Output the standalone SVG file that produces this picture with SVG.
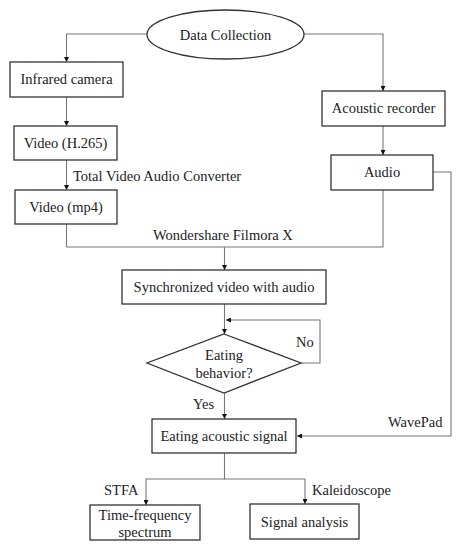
<svg xmlns="http://www.w3.org/2000/svg" width="464" height="550" viewBox="0 0 464 550">
<style>
.box{fill:#fff;stroke:#333;stroke-width:1.3}
.ln{fill:none;stroke:#777;stroke-width:1.1}
text{font-family:"Liberation Serif","Times New Roman",serif;font-size:14.5px;fill:#222}
.c{text-anchor:middle}
</style>
<defs>
<marker id="ar" viewBox="0 0 8 8" refX="8" refY="4" markerWidth="5" markerHeight="5" orient="auto" markerUnits="userSpaceOnUse">
<path d="M0,0 L8,4 L0,8 Z" fill="#111"/>
</marker>
</defs>
<rect width="464" height="550" fill="#fff"/>
<g id="connectors">
<path class="ln" d="M147,34 H66.5 V62" marker-end="url(#ar)"/>
<path class="ln" d="M304,34 H383 V91" marker-end="url(#ar)"/>
<path class="ln" d="M66.5,97 V126" marker-end="url(#ar)"/>
<path class="ln" d="M383,126 V155" marker-end="url(#ar)"/>
<path class="ln" d="M66.5,160 V190" marker-end="url(#ar)"/>
<path class="ln" d="M66.5,224 V247 H383 V190"/>
<path class="ln" d="M224.5,247 V270" marker-end="url(#ar)"/>
<path class="ln" d="M224.5,304 V334" marker-end="url(#ar)"/>
<path class="ln" d="M301,363 H320 V320 H226" marker-end="url(#ar)"/>
<path class="ln" d="M224.5,393 V419" marker-end="url(#ar)"/>
<path class="ln" d="M433,172 H451 V436 H297" marker-end="url(#ar)"/>
<path class="ln" d="M224.5,453 V479 H146 V505" marker-end="url(#ar)"/>
<path class="ln" d="M224.5,479 H305 V504" marker-end="url(#ar)"/>
<text x="73" y="181">Total Video Audio Converter</text>
<text x="153" y="240">Wondershare  Filmora  X</text>
<text x="296" y="347">No</text>
<text x="193" y="409">Yes</text>
<text x="388" y="427">WavePad</text>
<text x="104" y="495">STFA</text>
<text x="312" y="495">Kaleidoscope</text>
</g>
<g id="data-collection">
<ellipse cx="225.5" cy="34.5" rx="78.5" ry="24.5" class="box"/>
<text x="225.5" y="39.5" class="c">Data Collection</text>
</g>
<g id="infrared-camera">
<rect x="10" y="62" width="113" height="35" class="box"/>
<text x="66.5" y="84" class="c">Infrared  camera</text>
</g>
<g id="acoustic-recorder">
<rect x="322" y="91" width="123" height="35" class="box"/>
<text x="383.5" y="113" class="c">Acoustic  recorder</text>
</g>
<g id="video-h265">
<rect x="14" y="126" width="103" height="34" class="box"/>
<text x="65.5" y="148" class="c">Video (H.265)</text>
</g>
<g id="audio">
<rect x="331" y="155" width="102" height="35" class="box"/>
<text x="382" y="177" class="c">Audio</text>
</g>
<g id="video-mp4">
<rect x="15" y="190" width="102" height="34" class="box"/>
<text x="66" y="212" class="c">Video (mp4)</text>
</g>
<g id="synchronized">
<rect x="122" y="270" width="204" height="34" class="box"/>
<text x="224" y="292" class="c">Synchronized  video  with  audio</text>
</g>
<g id="eating-behavior">
<path d="M224,334 L301,363 L224,393 L147,363 Z" class="box"/>
<text x="224" y="360" class="c">Eating</text>
<text x="224" y="378" class="c">behavior?</text>
</g>
<g id="eating-acoustic-signal">
<rect x="152" y="419" width="144" height="34" class="box"/>
<text x="224" y="441" class="c">Eating  acoustic  signal</text>
</g>
<g id="time-frequency">
<rect x="90" y="505" width="110" height="35" class="box"/>
<text x="145" y="520" class="c">Time-frequency</text>
<text x="145" y="537" class="c">spectrum</text>
</g>
<g id="signal-analysis">
<rect x="250" y="504" width="109" height="35" class="box"/>
<text x="304.5" y="527" class="c">Signal  analysis</text>
</g>
</svg>
